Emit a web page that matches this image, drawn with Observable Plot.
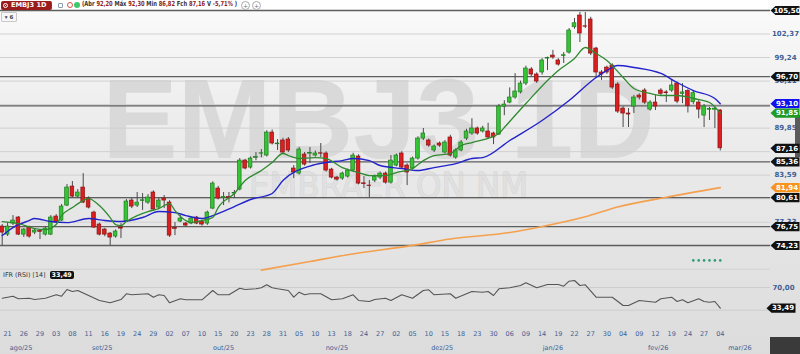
<!DOCTYPE html>
<html><head><meta charset="utf-8">
<script src="https://cdn.jsdelivr.net/npm/d3@7"></script>
<script src="https://cdn.jsdelivr.net/npm/@observablehq/plot@0.6"></script>
<style>
body{margin:0;width:800px;height:354px;overflow:hidden;position:relative;
 background:linear-gradient(to bottom,#fbfbfb 0%,#eeeeee 30%,#e5e5e5 65%,#dcdcdc 100%);
 font-family:"DejaVu Sans",sans-serif}
#main{position:absolute;left:0;top:0;z-index:2}
#rsi{position:absolute;left:0;top:268px;z-index:2}
#hdr{position:absolute;left:0;top:0;width:768px;height:10px;background:#fff;z-index:1}
#tab{position:absolute;left:1px;top:1px;width:51px;height:9px;background:#9c1c1c;border-radius:2px;color:#fff;
 font:bold 6.6px "DejaVu Sans",sans-serif;line-height:9px;white-space:nowrap;z-index:3}
#tab .ic{display:inline-block;width:5px;height:5px;border:1px solid #fff;border-radius:50%;margin:0 3px 0 2px;vertical-align:-1px;box-sizing:border-box;background:radial-gradient(#fff 30%,#9c1c1c 40%)}
.ico{position:absolute;top:2px;width:6px;height:6px;border-radius:50%;box-sizing:border-box;z-index:3}
#ohlc{position:absolute;left:82px;top:0;height:10px;line-height:10px;font:bold 7px "Liberation Sans Narrow","DejaVu Sans Condensed",sans-serif;color:#333;white-space:nowrap;transform-origin:left center;z-index:3}
#ohlc b{color:#8b1f1f}
.btn{position:absolute;top:1px;width:7px;height:7px;border:1px solid #aaa;border-radius:50%;font:6px "DejaVu Sans";line-height:7px;text-align:center;color:#777;background:#fff;z-index:3}
#six{position:absolute;left:1px;top:12px;width:14px;height:8px;border:1px solid #c8c8c8;background:#f7f7f7;font:bold 5.5px "DejaVu Sans";line-height:8px;text-align:center;color:#444;border-radius:1px;z-index:3}
#rsilab{position:absolute;left:3px;top:271px;font:6.4px "DejaVu Sans",sans-serif;color:#333;line-height:9px;white-space:nowrap;z-index:3}
#rsilab span{display:inline-block;background:#111;color:#fff;font-weight:bold;padding:0 2px;border-radius:2px;margin-left:2px;line-height:8px}
#brk{position:absolute;left:770px;top:337px;width:30px;height:17px;background:#3a3a3a;z-index:3}
#scr{position:absolute;left:795px;top:115px;width:5px;height:42px;background:#5a5a5a;z-index:1}
</style></head><body>
<div id="main"></div>
<div id="rsi"></div>
<div id="hdr"></div>
<div id="tab"><span class="ic"></span>EMBJ3 1D &nbsp;×</div>
<div class="ico" style="left:58px;border:1px solid #8a9ab0;border-radius:1px;width:5px;height:5px;top:2.5px"></div>
<div class="ico" style="left:67px;border:1.5px solid #e05050;background:#fff"></div>
<div class="ico" style="left:74px;background:#3cc86a"></div>
<div id="ohlc"></div>
<div class="btn" style="left:241px">+</div>
<div class="btn" style="left:252px">+</div>
<div id="six">▾ 6</div>
<div id="rsilab"></div>
<div id="scr"></div>
<div id="brk"></div>
<script>
// ---------- data ----------
const dates = ["2025-08-20","2025-08-21","2025-08-22","2025-08-25","2025-08-26","2025-08-27","2025-08-28","2025-08-29",
"2025-09-01","2025-09-02","2025-09-03","2025-09-04","2025-09-05","2025-09-08","2025-09-09","2025-09-10","2025-09-11","2025-09-12","2025-09-15","2025-09-16","2025-09-17","2025-09-18","2025-09-19","2025-09-22","2025-09-23","2025-09-24","2025-09-25","2025-09-26","2025-09-29","2025-09-30",
"2025-10-01","2025-10-02","2025-10-03","2025-10-06","2025-10-07","2025-10-08","2025-10-09","2025-10-10","2025-10-13","2025-10-14","2025-10-15","2025-10-16","2025-10-17","2025-10-20","2025-10-21","2025-10-22","2025-10-23","2025-10-24","2025-10-27","2025-10-28","2025-10-29","2025-10-30","2025-10-31",
"2025-11-03","2025-11-04","2025-11-05","2025-11-06","2025-11-07","2025-11-10","2025-11-11","2025-11-12","2025-11-13","2025-11-14","2025-11-17","2025-11-18","2025-11-19","2025-11-21","2025-11-24","2025-11-25","2025-11-26","2025-11-27","2025-11-28",
"2025-12-01","2025-12-02","2025-12-03","2025-12-04","2025-12-05","2025-12-08","2025-12-09","2025-12-10","2025-12-11","2025-12-12","2025-12-15","2025-12-16","2025-12-17","2025-12-18","2025-12-19","2025-12-22","2025-12-23","2025-12-26","2025-12-29","2025-12-30",
"2026-01-02","2026-01-05","2026-01-06","2026-01-07","2026-01-08","2026-01-09","2026-01-12","2026-01-13","2026-01-14","2026-01-15","2026-01-16","2026-01-19","2026-01-20","2026-01-21","2026-01-22","2026-01-23","2026-01-26","2026-01-27","2026-01-28","2026-01-29","2026-01-30",
"2026-02-02","2026-02-03","2026-02-04","2026-02-05","2026-02-06","2026-02-09","2026-02-10","2026-02-11","2026-02-12","2026-02-13","2026-02-18","2026-02-19","2026-02-20","2026-02-23","2026-02-24","2026-02-25","2026-02-26","2026-02-27",
"2026-03-02","2026-03-03","2026-03-04"];

const open = [
76.75,75.68,77.15,77.95,75.68,76.62,75.95,76.15,75.68,75.68,
78.08,77.55,79.54,82.07,80.74,81.94,80.48,78.61,77.02,76.35,
75.82,75.42,76.62,77.42,80.21,79.54,80.15,79.94,81.28,79.28,
80.48,79.94,76.55,77.42,77.15,77.15,77.95,77.42,77.15,79.14,
81.81,80.55,80.68,81.14,81.68,85.53,84.60,85.90,86.45,86.20,
89.26,87.70,88.20,88.33,84.47,83.80,86.33,86.45,86.20,86.50,
86.47,84.33,83.27,83.14,83.40,84.20,86.07,82.50,82.20,82.87,
83.27,83.80,82.60,84.87,86.47,84.87,84.47,85.80,88.46,88.20,
86.87,87.80,86.60,88.60,85.93,86.87,88.46,89.13,89.80,89.40,
89.40,89.13,89.00,92.70,93.25,93.92,94.60,95.78,97.65,96.98,
97.25,99.10,99.50,98.85,99.45,99.90,103.27,104.83,103.40,104.30,
100.44,97.25,97.90,98.18,95.65,92.45,91.79,92.72,94.18,94.85,
92.32,93.25,94.85,94.60,94.85,95.78,94.40,94.78,93.30,93.25,
91.52,92.30,92.30,92.20];
const high = [
77.02,77.28,78.21,78.08,76.48,76.80,76.48,76.35,76.70,78.21,
78.35,79.68,82.34,82.74,81.68,83.80,80.70,78.80,77.20,76.50,
75.95,76.30,77.15,80.34,80.48,81.28,81.14,81.00,81.50,80.50,
80.88,80.20,77.28,78.21,77.30,78.00,78.10,77.60,78.80,82.70,
82.10,81.28,81.28,81.55,85.80,85.70,86.00,86.60,87.00,89.50,
89.60,88.33,88.50,88.60,84.87,87.30,86.60,87.27,86.80,87.80,
86.70,84.50,83.40,84.00,84.40,86.50,86.30,83.40,82.87,83.60,
84.00,84.00,86.20,86.40,86.70,85.10,86.00,88.70,89.80,88.40,
87.60,88.00,88.20,88.90,87.10,88.20,89.70,91.10,90.00,90.10,
90.50,89.30,93.00,93.50,95.20,97.10,96.10,98.10,97.90,97.20,
99.10,99.30,100.20,99.10,99.90,103.10,104.44,105.24,105.24,104.60,
100.60,97.50,98.10,98.40,95.90,92.70,92.45,94.20,94.40,95.10,
93.50,94.18,95.10,94.85,96.20,96.00,95.78,95.00,94.80,93.50,
93.00,92.60,92.60,92.30];
const low = [
74.22,75.42,76.88,75.55,75.29,75.20,75.68,75.02,75.50,75.55,
77.15,77.42,79.41,80.60,80.48,79.80,79.10,76.48,75.50,75.40,
74.22,75.20,75.15,77.28,79.14,79.28,78.88,79.70,78.80,79.10,
79.14,75.30,75.55,77.28,76.70,77.00,77.00,76.80,76.90,79.00,
80.30,79.54,79.90,80.48,81.50,84.30,84.40,85.50,85.90,86.00,
87.60,86.87,86.40,86.60,83.14,83.60,84.80,85.13,86.00,85.93,
84.00,83.10,82.80,82.90,83.20,84.00,82.30,81.80,80.60,82.60,
83.00,82.40,82.40,84.70,84.40,82.20,84.30,85.60,88.20,87.30,
86.60,87.30,86.40,86.00,85.70,86.70,88.20,88.90,88.90,89.20,
88.40,87.66,88.86,91.50,93.10,93.70,94.40,95.50,96.70,95.80,
96.90,97.50,99.00,98.10,98.45,99.70,103.00,101.24,103.10,99.50,
96.45,96.20,97.00,95.00,91.80,89.93,89.93,91.79,93.60,93.00,
92.10,92.19,94.20,93.25,94.60,93.10,93.10,91.86,93.00,91.10,
89.93,90.86,89.80,86.82];
const close = [
75.95,76.75,77.55,75.68,76.35,75.42,76.22,76.05,76.48,77.95,
77.28,79.41,81.94,80.74,81.28,79.94,79.28,76.62,75.68,75.68,
75.29,76.09,76.48,80.08,79.41,79.94,80.25,80.61,79.01,80.21,
80.21,75.55,76.45,77.82,76.88,77.82,77.15,77.02,78.61,82.47,
80.48,80.68,80.55,81.20,85.53,84.47,85.80,86.00,86.50,89.26,
87.80,87.80,86.60,86.87,83.94,87.00,85.00,86.55,86.47,86.45,
84.20,83.27,83.00,83.80,84.20,86.20,82.47,82.40,82.15,83.40,
83.80,82.60,85.53,86.20,84.60,83.94,85.80,88.46,89.13,87.53,
87.40,87.53,87.93,86.20,86.87,87.93,89.40,89.80,89.13,89.80,
88.60,88.60,92.72,92.98,93.92,94.72,95.78,97.78,96.98,96.05,
98.85,99.20,99.25,98.30,99.55,102.84,103.80,102.44,103.35,99.77,
97.25,96.98,97.25,95.25,92.05,91.79,91.66,93.92,93.92,93.25,
93.25,92.72,94.42,94.50,95.52,93.38,94.60,92.79,94.50,92.32,
92.72,92.40,92.44,87.16];

// moving averages (day index -> value)
const shortMaDay = [0,3,6,8,10,11,13,15,16,18,20,21,22,23,25,27,29,31,32,34,35,37,39,40,43,45,48,50,52,53,55,58,60,63,66,68,71,73,76,78,80,83,85,87,92,93,97,101,103,106,108,110,112,115,117,120,122,125,128,131,133];
const shortMaVal = [77.42,77.15,76.48,76.35,77.02,78.21,79.28,80.21,80.48,79.54,77.95,77.02,76.88,77.42,78.21,78.75,79.14,79.81,78.88,77.55,77.28,77.55,77.95,79.28,81.15,82.88,84.21,85.28,86.47,86.20,85.80,85.93,85.80,84.60,83.94,83.54,83.54,83.94,84.47,85.53,86.20,86.47,87.53,87.93,89.13,89.93,93.12,96.19,97.52,99.12,100.58,99.78,98.85,96.59,95.12,94.46,94.19,94.19,93.79,93.26,91.85];
const midMaDay = [0,2,5,6,9,12,16,19,22,26,29,32,34,37,39,43,46,50,52,57,60,63,65,68,70,74,77,80,84,87,89,94,100,105,110,112,114,117,122,125,128,132,133];
const midMaVal = [75.55,76.62,77.55,77.82,77.42,77.28,77.82,77.55,77.42,77.95,78.75,78.61,78.21,77.82,78.21,79.41,80.35,81.15,82.88,84.80,85.27,85.53,85.80,85.53,84.87,84.47,84.20,84.60,85.13,85.80,85.93,88.20,90.86,93.52,96.59,97.52,98.18,97.92,97.12,95.92,94.85,93.79,93.10];
const longMaDay = [48,57,64,76,83,94,100,108,114,123,133];
const longMaVal = [70.95,72.10,73.00,74.25,75.10,75.95,76.75,78.05,79.35,80.65,81.94];

// IFR (RSI 14)
const rsiDay = [0,2,3,5,6,8,10,11,12,13,14,16,18,20,22,23,24,27,28,29,30,31,33,34,37,39,40,42,44,45,47,48,49,50,51,53,54,55,56,57,59,61,63,65,66,68,69,71,72,74,76,78,79,80,83,84,87,89,90,91,92,94,96,97,99,101,103,104,105,106,107,108,110,113,115,116,118,121,122,124,125,126,127,129,130,131,132,133];
const rsiVal = [51.1,54.7,50.1,51.1,48.8,51.1,57.1,54.7,66.5,62.9,64.7,55.9,47.1,43.0,48.8,58.9,57.1,58.9,52.9,57.1,55.9,43.0,50.1,48.3,48.3,64.7,57.1,57.1,68.8,66.5,67.7,69.5,74.8,69.5,67.7,64.7,52.9,61.7,57.1,58.9,58.9,48.3,50.1,57.1,47.1,45.3,48.8,51.1,47.1,57.1,51.1,64.7,65.9,57.1,58.9,51.1,62.9,61.7,62.9,55.9,67.7,69.5,73.5,78.3,69.5,75.3,75.3,72.3,81.1,82.3,73.5,74.8,52.9,52.9,38.2,38.2,47.1,44.1,50.1,52.9,45.3,48.3,43.0,50.1,45.3,44.1,45.3,33.49];

const levels = [105.50, 96.70, 92.80, 85.36, 80.61, 76.75, 74.23];
const priceTicks = [105.50,102.37,99.24,96.11,92.98,89.85,86.72,83.59,80.46,77.33,74.20,71.07];
const signalDays = [128,129,130,131,132,133];
const signalLevel = 72.25;
const monthKeys = ["2025-08","2025-09","2025-10","2025-11","2025-12","2026-01","2026-02","2026-03"];
const monthLabels = ["ago/25","set/25","out/25","nov/25","dez/25","jan/26","fev/26","mar/26"];
const rsiTicks = [70];

// ---------- helpers ----------
const fmt = v => v.toFixed(2).replace(".", ",");
const rows = dates.map((d, i) => ({i, o: open[i], h: high[i], l: low[i], c: close[i]}));
const pts = (days, vals) => days.map((d, k) => ({d, v: vals[k]}));
const N = dates.length;
const xDomain = [-0.315, 142.3];
const W = 800;

const tagSymbol = {draw(ctx) {
  ctx.moveTo(0, 0); ctx.lineTo(5, -4.6); ctx.lineTo(29, -4.6); ctx.lineTo(29, 4.6); ctx.lineTo(5, 4.6); ctx.closePath();
}};

const last = N - 1;
const colorTags = [
  {v: longMaVal[longMaVal.length - 1], col: "#f7941d"},
  {v: midMaVal[midMaVal.length - 1], col: "#1010f0"},
  {v: shortMaVal[shortMaVal.length - 1], col: "#1f9a24"}
];
// a level tag lying right under an indicator tag is hidden by it, as in the platform
const blackTags = [...levels, close[last]]
  .filter(v => d3.min(colorTags, t => Math.abs(t.v - v)) > 0.5)
  .map(v => ({v, col: "#121212"}));
const tagGroups = [blackTags, ...colorTags.map(t => [t])];
const tagValues = [...levels, close[last], ...colorTags.map(t => t.v)];
const shownTicks = priceTicks.filter(v => v > 74 && d3.min(tagValues, t => Math.abs(t - v)) > 0.5);
const tagMarks = tagGroups.flatMap(g => [
  Plot.dot(g, {y: "v", frameAnchor: "right", symbol: tagSymbol, fill: "col", stroke: null}),
  Plot.text(g, {y: "v", frameAnchor: "right", dx: 16.5, text: d => fmt(d.v), textAnchor: "middle", fill: "white", fontSize: 7, fontWeight: "bold"})
]);

const up = d => d.c >= d.o;

// ---------- main panel ----------
const main = Plot.plot({
  width: W, height: 274,
  marginLeft: 0, marginRight: 30, marginTop: 10, marginBottom: 29,
  x: {domain: xDomain, axis: null},
  y: {domain: [74.23, 105.5], axis: null},
  style: {background: "transparent", fontFamily: "DejaVu Sans, sans-serif", overflow: "visible"},
  marks: [
    Plot.text(["EMBJ3 1D"], {frameAnchor: "top-left", dx: 378, dy: 111, text: d => d, textAnchor: "middle", lineAnchor: "middle",
      fontSize: 113, fontWeight: "bold", fontFamily: "Liberation Sans, Arial, sans-serif", fill: "#d9d9d9"}),
    Plot.text(["EMBRAER ON NM"], {frameAnchor: "top-left", dx: 388, dy: 176, text: d => d, textAnchor: "middle", lineAnchor: "middle",
      fontSize: 36, fontFamily: "Liberation Sans Narrow, DejaVu Sans Condensed, sans-serif", fill: "#e0e0e0", stroke: "#d0d0d0", strokeWidth: 0.8}),
    Plot.ruleY(priceTicks, {stroke: "#d0d0d0", strokeWidth: 1}),
    Plot.ruleY(levels, {stroke: "#5e5e5e", strokeWidth: 1.3}),
    Plot.ruleX(rows, {x: "i", y1: "l", y2: "h", stroke: "#4a4a4a", strokeWidth: 1}),
    Plot.rect(rows, {x1: d => d.i - 0.34, x2: d => d.i + 0.34, y1: "o", y2: "c",
      fill: d => up(d) ? "#35c435" : "#d91f1f", stroke: d => up(d) ? "#1e7d1e" : "#8c1212", strokeWidth: 0.7}),
    Plot.line(pts(longMaDay, longMaVal), {x: "d", y: "v", stroke: "#f4a04e", strokeWidth: 1.6, curve: "monotone-x"}),
    Plot.line(pts(midMaDay, midMaVal), {x: "d", y: "v", stroke: "#2222cc", strokeWidth: 1.4, curve: "monotone-x"}),
    Plot.line(pts(shortMaDay, shortMaVal), {x: "d", y: "v", stroke: "#2f8a2f", strokeWidth: 1.3, curve: "monotone-x"}),
    Plot.dot(signalDays, {x: d => d, y: () => signalLevel, r: 1.3, fill: "#2a9d72", stroke: null}),
    Plot.text(shownTicks, {y: d => d, frameAnchor: "right", dx: 15, text: fmt, textAnchor: "middle",
      fill: "#3f5f95", fontSize: 7, fontWeight: "bold"}),
    ...tagMarks
  ]
});
document.getElementById("main").append(main);

// ---------- RSI panel + time axis ----------
const dayTicks = dates.map((d, i) => i).filter(i => i % 3 === 1);
const months = monthKeys.map((k, m) => {
  const idx = dates.map((d, i) => i).filter(i => dates[i].startsWith(k));
  const hi = m === monthKeys.length - 1 ? xDomain[1] : d3.max(idx);
  return {pos: (d3.min(idx) + hi) / 2, label: monthLabels[m]};
});
const rsiLast = rsiVal[rsiVal.length - 1];
const rsi = Plot.plot({
  width: W, height: 86,
  marginLeft: 0, marginRight: 30, marginTop: 19, marginBottom: 46.3,
  x: {domain: xDomain, axis: null},
  y: {domain: [33.49, 70], axis: null},
  style: {background: "transparent", fontFamily: "DejaVu Sans, sans-serif", overflow: "visible"},
  marks: [
    Plot.ruleY([30, 70], {stroke: "#cdcdcd"}),
    Plot.line(pts(rsiDay, rsiVal), {x: "d", y: "v", stroke: "#555", strokeWidth: 1.1}),
    Plot.text(rsiTicks, {y: d => d, frameAnchor: "right", dx: 13, text: fmt, textAnchor: "middle", fill: "#3f5f95", fontSize: 7, fontWeight: "bold"}),
    Plot.dot([rsiLast], {y: d => d, frameAnchor: "right", dx: -4, symbol: tagSymbol, fill: "#111", stroke: null}),
    Plot.text([rsiLast], {y: d => d, frameAnchor: "right", dx: 12.5, text: fmt, textAnchor: "middle", fill: "white", fontSize: 7, fontWeight: "bold"}),
    Plot.text(dayTicks, {x: d => d, text: i => dates[i].slice(8, 10), frameAnchor: "bottom", dy: 25.3, textAnchor: "middle", lineAnchor: "middle",
      fill: "#3f5f95", fontSize: 6.5}),
    Plot.text(months, {x: "pos", text: "label", frameAnchor: "bottom", dy: 39.3, textAnchor: "middle", lineAnchor: "middle", fill: "#3f5f95", fontSize: 6.5})
  ]
});
document.getElementById("rsi").append(rsi);

// ---------- header texts ----------
const chg = (close[last] / close[last - 1] - 1) * 100;
const oh = document.getElementById("ohlc");
oh.innerHTML = `(Abr <b>${fmt(open[last])}</b> Máx <b>${fmt(high[last])}</b> Min <b>${fmt(low[last])}</b> Fch <b>${fmt(close[last])}</b> V <b>${fmt(chg)}%</b> )`;
const w = oh.getBoundingClientRect().width;
oh.style.transform = `scaleX(${155 / w})`;
document.getElementById("rsilab").innerHTML = `IFR (RSI) [14] <span>${fmt(rsiLast)}</span>`;
</script>
</body></html>
